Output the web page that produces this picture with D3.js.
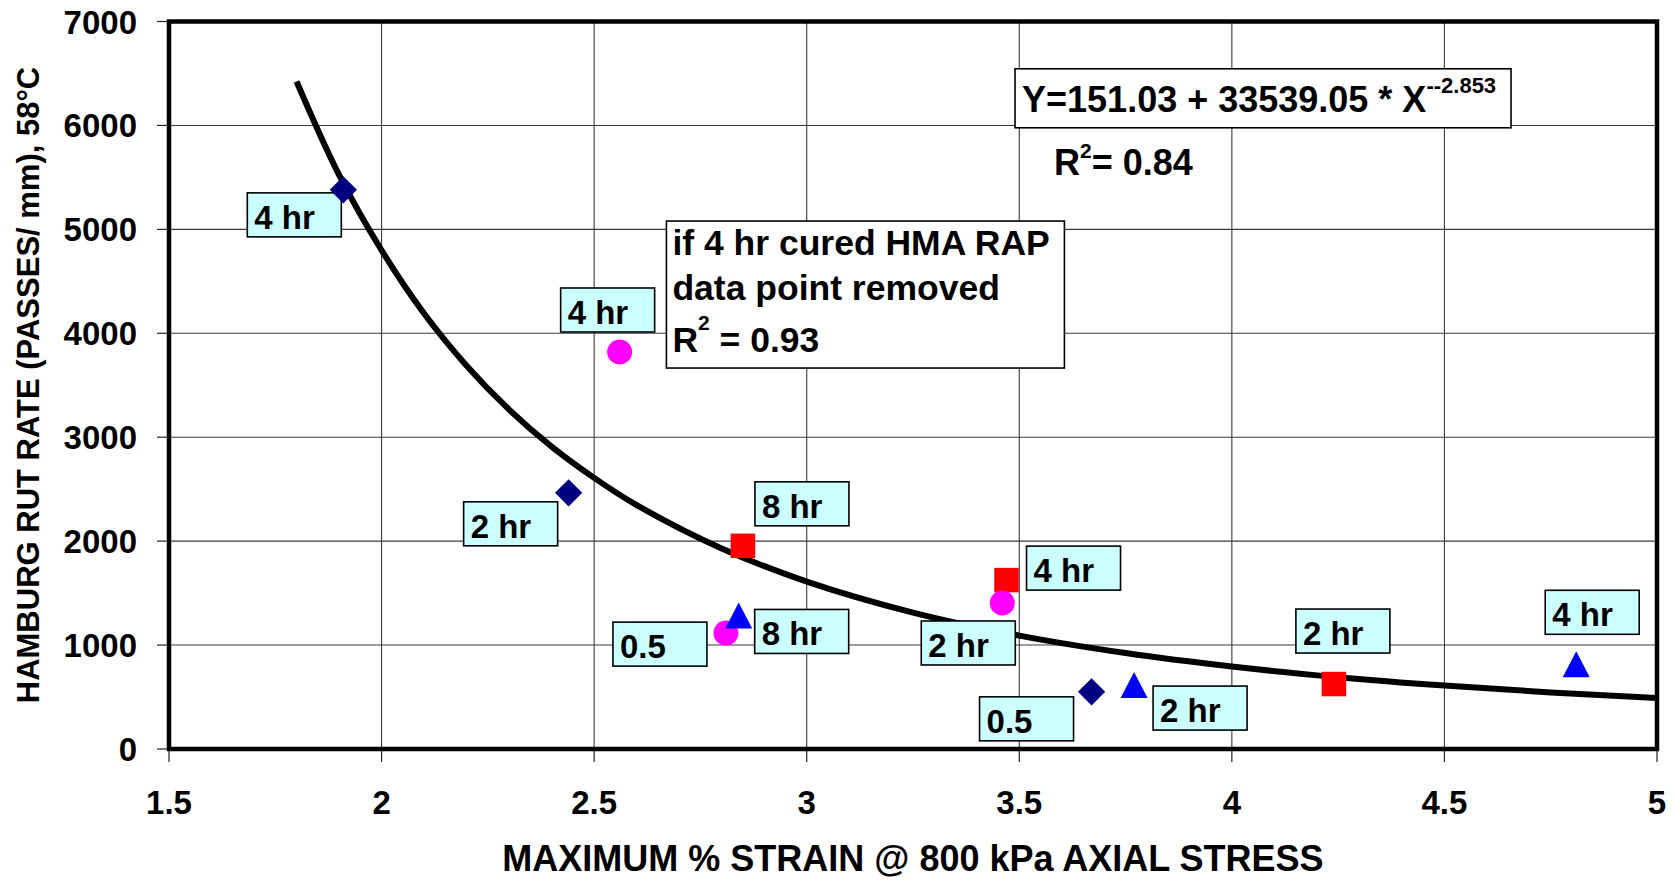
<!DOCTYPE html>
<html><head><meta charset="utf-8">
<script src="https://cdn.jsdelivr.net/npm/d3@7"></script>
<style>
body{margin:0;background:#fff}
svg{display:block}
text{font-family:"Liberation Sans",Arial,Helvetica,sans-serif;font-weight:bold;fill:#000}
</style></head>
<body><svg id="chart" width="1675" height="880"></svg>
<script>
// ---------------- DATA ----------------
const xTicks = [1.5, 2, 2.5, 3, 3.5, 4, 4.5, 5];
const xTickLabels = ["1.5", "2", "2.5", "3", "3.5", "4", "4.5", "5"];
const yTicks = [0, 1000, 2000, 3000, 4000, 5000, 6000, 7000];
const yTickLabels = ["0", "1000", "2000", "3000", "4000", "5000", "6000", "7000"];

// navy diamonds
const diamondX = [1.91, 2.44, 3.67];
const diamondY = [5380, 2465, 550];
const diamondLabels = ["4 hr", "2 hr", "0.5"];
// red squares
const squareX = [2.85, 3.47, 4.24];
const squareY = [1955, 1625, 625];
const squareLabels = ["8 hr", "4 hr", "2 hr"];
// magenta circles
const circleX = [2.56, 2.81, 3.46];
const circleY = [3820, 1115, 1405];
const circleLabels = ["4 hr", "0.5", "2 hr"];
// blue triangles
const triangleX = [2.84, 3.77, 4.81];
const triangleY = [1285, 615, 815];
const triangleLabels = ["8 hr", "2 hr", "4 hr"];

// power trend line
const fitX = [1.8, 1.9, 2.0, 2.1, 2.2, 2.3, 2.4, 2.5, 2.6, 2.8, 3.0, 3.25, 3.5, 3.75, 4.0, 4.25, 4.5, 4.75, 5.0];
const fitY = [6423, 5524, 4799, 4190, 3688, 3266, 2910, 2609, 2347, 1929, 1611, 1313, 1091, 923, 793, 691, 610, 544, 491];

const xTitle = "MAXIMUM % STRAIN @ 800 kPa AXIAL STRESS";
const yTitle = "HAMBURG RUT RATE (PASSES/ mm), 58°C";
const eqMain = "Y=151.03 + 33539.05 * X";
const eqExp = "--2.853";
const r2All = "= 0.84";
const noteLines = ["if 4 hr cured HMA RAP", "data point removed"];
const r2Note = " = 0.93";

// ---------------- LAYOUT / STYLE ----------------
const svg = d3.select("#chart");
const x = d3.scaleLinear().domain([1.5, 5]).range([169, 1657]);
const y = d3.scaleLinear().domain([0, 7000]).range([749, 21.5]);

// label box offsets (pixels, relative to the marker) for each series
const diamondOff = [[-96, 3], [-105, 9], [-112, 5]];
const squareOff = [[12, -64], [20, -34], [-38, -75]];
const circleOff = [[-59, -64], [-113, -11], [-81, 18]];
const triangleOff = [[16, -6], [19, 1], [-31, -74]];

// gridlines
const grid = svg.append("g").attr("stroke", "#3a3a3a").attr("stroke-width", 1.1);
grid.selectAll(".gx").data(xTicks.slice(1, -1)).enter().append("line")
  .attr("x1", d => x(d)).attr("x2", d => x(d)).attr("y1", y(7000)).attr("y2", y(0));
grid.selectAll(".gy").data(yTicks.slice(1, -1)).enter().append("line")
  .attr("x1", x(1.5)).attr("x2", x(5)).attr("y1", d => y(d)).attr("y2", d => y(d));

// tick marks
const tk = svg.append("g").attr("stroke", "#222").attr("stroke-width", 1.2);
tk.selectAll(".tx").data(xTicks).enter().append("line")
  .attr("x1", d => x(d)).attr("x2", d => x(d)).attr("y1", y(0)).attr("y2", y(0) + 13);
tk.selectAll(".ty").data(yTicks).enter().append("line")
  .attr("x1", x(1.5) - 12).attr("x2", x(1.5)).attr("y1", d => y(d)).attr("y2", d => y(d));

// tick labels
svg.append("g").selectAll("text").data(xTicks).enter().append("text")
  .attr("x", d => x(d)).attr("y", 814).attr("text-anchor", "middle")
  .style("font-size", "33px").text((d, i) => xTickLabels[i]);
svg.append("g").selectAll("text").data(yTicks).enter().append("text")
  .attr("x", 137).attr("y", d => y(d) + 12).attr("text-anchor", "end")
  .style("font-size", "33px").text((d, i) => yTickLabels[i]);

// axis titles
svg.append("text").attr("x", 913).attr("y", 871).attr("text-anchor", "middle")
  .style("font-size", "36px").text(xTitle);
svg.append("text").attr("transform", "translate(39,385) rotate(-90)").attr("text-anchor", "middle")
  .style("font-size", "31px").text(yTitle);

// trend curve
const line = d3.line().x((d, i) => x(fitX[i])).y(d => y(d)).curve(d3.curveCatmullRom);
svg.append("path").attr("d", line(fitY)).attr("fill", "none")
  .attr("stroke", "#000").attr("stroke-width", 6);

// frame
svg.append("rect").attr("x", x(1.5)).attr("y", y(7000))
  .attr("width", x(5) - x(1.5)).attr("height", y(0) - y(7000))
  .attr("fill", "none").attr("stroke", "#000").attr("stroke-width", 4.5);

// data labels
const series = [
  {xs: diamondX, ys: diamondY, labels: diamondLabels, off: diamondOff},
  {xs: squareX, ys: squareY, labels: squareLabels, off: squareOff},
  {xs: circleX, ys: circleY, labels: circleLabels, off: circleOff},
  {xs: triangleX, ys: triangleY, labels: triangleLabels, off: triangleOff}
];
const labG = svg.append("g");
series.forEach(s => {
  s.xs.forEach((xv, i) => {
    const px = x(xv) + s.off[i][0], py = y(s.ys[i]) + s.off[i][1];
    labG.append("rect").attr("x", px).attr("y", py).attr("width", 94).attr("height", 44)
      .attr("fill", "#ccffff").attr("stroke", "#000").attr("stroke-width", 1.6);
    labG.append("text").attr("x", px + 7).attr("y", py + 36)
      .style("font-size", "33px").text(s.labels[i]);
  });
});

// markers
const mk = svg.append("g");
mk.selectAll(".dia").data(diamondY).enter().append("path")
  .attr("d", d3.symbol(d3.symbolSquare, 370)())
  .attr("transform", (d, i) => `translate(${x(diamondX[i])},${y(d)}) rotate(45)`)
  .attr("fill", "#000080");
mk.selectAll(".sq").data(squareY).enter().append("path")
  .attr("d", d3.symbol(d3.symbolSquare, 600)())
  .attr("transform", (d, i) => `translate(${x(squareX[i])},${y(d)})`)
  .attr("fill", "#ff0000");
mk.selectAll(".ci").data(circleY).enter().append("circle")
  .attr("cx", (d, i) => x(circleX[i])).attr("cy", d => y(d)).attr("r", 12.5)
  .attr("fill", "#ff00ff");
mk.selectAll(".tr").data(triangleY).enter().append("path")
  .attr("d", "M0,-13L13.5,13L-13.5,13Z")
  .attr("transform", (d, i) => `translate(${x(triangleX[i])},${y(d)})`)
  .attr("fill", "#0000ff");

// equation box
const eqL = x(3.49), eqT = y(6545);
svg.append("rect").attr("x", eqL).attr("y", eqT).attr("width", 496).attr("height", 59)
  .attr("fill", "#fff").attr("stroke", "#000").attr("stroke-width", 1.6);
const eqText = svg.append("text").attr("x", eqL + 7).attr("y", eqT + 43).style("font-size", "36px");
eqText.append("tspan").text(eqMain);
eqText.append("tspan").attr("dy", -19).style("font-size", "22px").text(eqExp);

const r2 = svg.append("text").attr("x", eqL + 39).attr("y", eqT + 106).style("font-size", "36px");
r2.append("tspan").text("R");
r2.append("tspan").attr("dy", -17).style("font-size", "21px").text("2");
r2.append("tspan").attr("dy", 17).text(r2All);

// note box
const nL = x(2.67), nT = y(5080);
svg.append("rect").attr("x", nL).attr("y", nT).attr("width", 398).attr("height", 147)
  .attr("fill", "#fff").attr("stroke", "#000").attr("stroke-width", 1.6);
noteLines.forEach((t, i) => {
  svg.append("text").attr("x", nL + 6).attr("y", nT + 34 + i * 45).style("font-size", "35.5px").text(t);
});
const nr = svg.append("text").attr("x", nL + 6).attr("y", nT + 131).style("font-size", "35.5px");
nr.append("tspan").text("R");
nr.append("tspan").attr("dy", -22).style("font-size", "21px").text("2");
nr.append("tspan").attr("dy", 22).text(r2Note);
</script></body></html>
